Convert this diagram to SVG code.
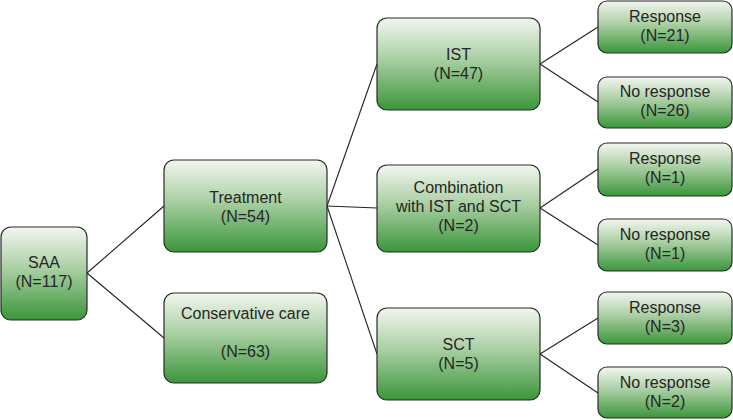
<svg xmlns="http://www.w3.org/2000/svg" width="733" height="420" viewBox="0 0 733 420">
<defs>
<linearGradient id="g" x1="0" y1="0" x2="0" y2="1">
<stop offset="0" stop-color="#f2f6ef"/>
<stop offset="0.45" stop-color="#a9cfa3"/>
<stop offset="1" stop-color="#3a963a"/>
</linearGradient>
<style>
.n rect{fill:url(#g);stroke:#2a2a2a;stroke-width:1.2}
.n text{font-family:"Liberation Sans",Arial,sans-serif;font-size:16px;fill:#262626;text-anchor:middle}
.c line{stroke:#222;stroke-width:1.1}
</style>
</defs>
<g class="c">
<line x1="87" y1="273" x2="164" y2="206"/>
<line x1="87" y1="273" x2="164" y2="338"/>
<line x1="327" y1="206" x2="377" y2="64"/>
<line x1="327" y1="206" x2="377" y2="208"/>
<line x1="327" y1="206" x2="377" y2="354"/>
<line x1="540" y1="64" x2="598" y2="27"/>
<line x1="540" y1="64" x2="598" y2="102"/>
<line x1="540" y1="208" x2="598" y2="169"/>
<line x1="540" y1="208" x2="598" y2="245"/>
<line x1="540" y1="354" x2="598" y2="318"/>
<line x1="540" y1="354" x2="598" y2="393"/>
</g>
<g id="saa" class="n"><rect x="1" y="227" width="86" height="93" rx="10"/><text x="44" y="268">SAA</text><text x="44" y="287">(N=117)</text></g>
<g id="treatment" class="n"><rect x="164" y="160" width="163" height="92" rx="10"/><text x="245.5" y="203">Treatment</text><text x="245.5" y="222">(N=54)</text></g>
<g id="conservative" class="n"><rect x="164" y="293" width="163" height="90" rx="10"/><text x="245.5" y="319">Conservative care</text><text x="245.5" y="357">(N=63)</text></g>
<g id="ist" class="n"><rect x="377" y="18" width="163" height="92" rx="10"/><text x="458.5" y="60">IST</text><text x="458.5" y="79">(N=47)</text></g>
<g id="combination" class="n"><rect x="377" y="165" width="163" height="87" rx="10"/><text x="458.5" y="193">Combination</text><text x="458.5" y="212">with IST and SCT</text><text x="458.5" y="231">(N=2)</text></g>
<g id="sct" class="n"><rect x="377" y="308" width="163" height="92" rx="10"/><text x="458.5" y="350">SCT</text><text x="458.5" y="369">(N=5)</text></g>
<g id="ist-resp" class="n"><rect x="598" y="1" width="134" height="52" rx="9"/><text x="665" y="22">Response</text><text x="665" y="41">(N=21)</text></g>
<g id="ist-noresp" class="n"><rect x="598" y="77" width="134" height="51" rx="9"/><text x="665" y="97">No response</text><text x="665" y="116">(N=26)</text></g>
<g id="comb-resp" class="n"><rect x="598" y="143" width="134" height="53" rx="9"/><text x="665" y="164">Response</text><text x="665" y="183">(N=1)</text></g>
<g id="comb-noresp" class="n"><rect x="598" y="219" width="134" height="52" rx="9"/><text x="665" y="240">No response</text><text x="665" y="259">(N=1)</text></g>
<g id="sct-resp" class="n"><rect x="598" y="292" width="134" height="52" rx="9"/><text x="665" y="313">Response</text><text x="665" y="332">(N=3)</text></g>
<g id="sct-noresp" class="n"><rect x="598" y="367" width="134" height="51" rx="9"/><text x="665" y="388">No response</text><text x="665" y="407">(N=2)</text></g>
</svg>
